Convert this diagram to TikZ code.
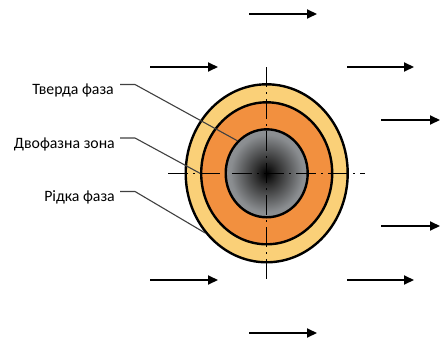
\documentclass[tikz,border=0pt]{standalone}
\usepackage{fontspec}
\setmainfont{Carlito}
\usetikzlibrary{
    arrows.meta,
    shapes.geometric
}

\definecolor{liquiddark}{HTML}{FAD078}
\definecolor{liquid}{HTML}{FFE08E}
\definecolor{zonedark}{HTML}{F2903F}
\definecolor{zonelight}{HTML}{F6A860}
\definecolor{coredark}{HTML}{303030}
\definecolor{coremid}{HTML}{8A8D90}
\definecolor{coregray}{HTML}{A9ADB1}
\definecolor{leadgray}{HTML}{404040}

\pgfdeclareradialshading{liquidshade}{\pgfpoint{0bp}{0bp}}{%
    color(0bp)=(liquiddark); color(40bp)=(liquiddark); color(50bp)=(liquid)}
\pgfdeclareradialshading{zoneshade}{\pgfpoint{0bp}{0bp}}{%
    color(0bp)=(zonedark); color(31bp)=(zonedark); color(50bp)=(zonelight)}
\pgfdeclareradialshading{coreshade}{\pgfpoint{0bp}{0bp}}{%
    color(0bp)=(black); color(7bp)=(coredark); color(22bp)=(coremid); color(50bp)=(coregray)}

\begin{document}
\begin{tikzpicture}[
    x=1pt, y=-1pt,
    font=\fontsize{15.8}{19}\selectfont,
    ring/.style={
        ellipse,
        draw=black,
        line width=2.4pt,
        inner sep=0pt
    },
    axis/.style={
        line width=1pt,
        dash pattern=on 20pt off 5pt on 2pt off 5pt
    },
    flow/.style={
        -{Triangle[length=10pt,width=9pt]},
        line width=2pt
    },
    leader/.style={
        draw=leadgray,
        line width=1.1pt
    },
    phase/.style={
        anchor=base east,
        inner sep=0pt
    }
]

\useasboundingbox (0,0) rectangle (441,345);

% =========================================================
% Droplet: liquid, two-phase zone, solid core
% =========================================================
\coordinate (c) at (266.7,173.3);

\node[ring, shading=liquidshade, minimum width=162pt, minimum height=178pt] (outer) at (c) {};
\node[ring, shading=zoneshade, minimum width=131pt, minimum height=142pt] (middle) at (c) {};
\node[ring, shading=coreshade, minimum width=82pt, minimum height=88pt] (core) at (c) {};

% =========================================================
% Centre lines
% =========================================================
\coordinate (hl) at (168,173.3);
\coordinate (hr) at (365,173.3);
\coordinate (vt) at (266.7,67);
\coordinate (vb) at (266.7,280);

\draw[axis] (hl) -- (hr);
\draw[axis] (vt) -- (vb);

% =========================================================
% Labels
% =========================================================
\node[phase] (tverda) at (114,94.5) {Тверда фаза};
\node[phase] (dvofazna) at (115,148) {Двофазна зона};
\node[phase] (ridka) at (115,201.5) {Рідка фаза};

\draw[leader] ([shift={(6,-10)}]tverda.base east) -- ++(15,0) -- (core.132);
\draw[leader] ([shift={(5,-10)}]dvofazna.base east) -- ++(15,0) -- (middle.180);
\draw[leader] ([shift={(5,-10)}]ridka.base east) -- ++(15,0) -- (outer.224);

% =========================================================
% Flow arrows
% =========================================================
\foreach \n/\xa/\xb/\yy in {
    top/249/317/14,
    ul/150/218/67, ur/347/414/67,
    r1/381/440/120, r2/381/440/226,
    ll/150/218/280, lr/347/414/280,
    bot/249/317/333} {
    \coordinate (\n-s) at (\xa,\yy);
    \coordinate (\n-e) at (\xb,\yy);
    \draw[flow] (\n-s) -- (\n-e);
}

\end{tikzpicture}
\end{document}
